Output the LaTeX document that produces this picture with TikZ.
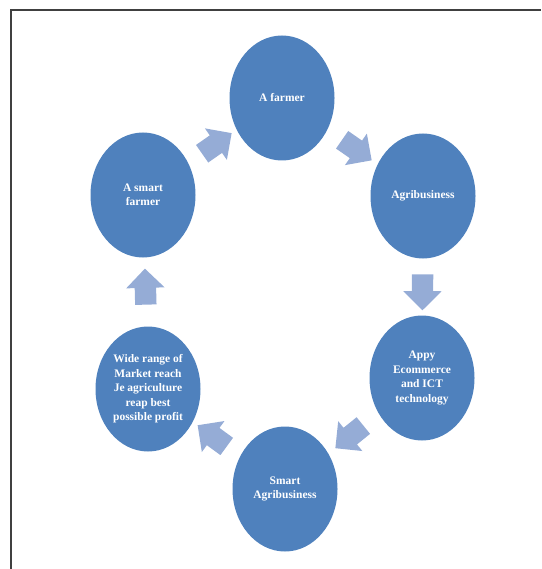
\documentclass[tikz,border=0pt]{standalone}
\usepackage{fontspec}
\setmainfont{Liberation Serif}
\usetikzlibrary{shapes.geometric, shapes.arrows, calc}

\definecolor{stageblue}{HTML}{4F81BD}
\definecolor{arrowblue}{HTML}{95ACD6}

\begin{document}
\begin{tikzpicture}[
x=1pt, y=-1pt,
stage/.style={ellipse, fill=stageblue, text=white, align=center, inner sep=0pt,
  minimum width=105pt, minimum height=125pt,
  font=\bfseries\fontsize{11.5}{14.5}\selectfont},
blockarrow/.style={single arrow, fill=arrowblue, inner sep=10.5pt,
  minimum height=36pt, single arrow head extend=8.5pt,
  single arrow tip angle=90}
]
\useasboundingbox (0,0) rectangle (541,569);

% frame
\draw[line width=1.5pt, black!75] (11,569) -- (11,10) -- (541,10);

\node[stage] (farmer) at (282,98) {A farmer};
\node[stage] (agri) at (423,196) {Agribusiness};
\node[stage] (ecom) at (422,378) {Appy\\Ecommerce\\and ICT\\technology};
\node[stage] (smartagri) at (285,489) {Smart\\Agribusiness};
\node[stage] (market) at (148,389) {Wide range of\\Market reach\\Je agriculture\\reap best\\possible profit};
\node[stage] (smartfarmer) at (143,195) {A smart\\farmer};

% block arrows half way between stages
\foreach \a/\b in {smartfarmer/farmer, farmer/agri, agri/ecom, ecom/smartagri, smartagri/market, market/smartfarmer}
  \path let \p1=($(\b)-(\a)$), \n1={atan2(\y1,\x1)} in
    node[blockarrow, rotate=\n1] (\a-\b) at ($(\a)!0.5!(\b)$) {};

\end{tikzpicture}
\end{document}
